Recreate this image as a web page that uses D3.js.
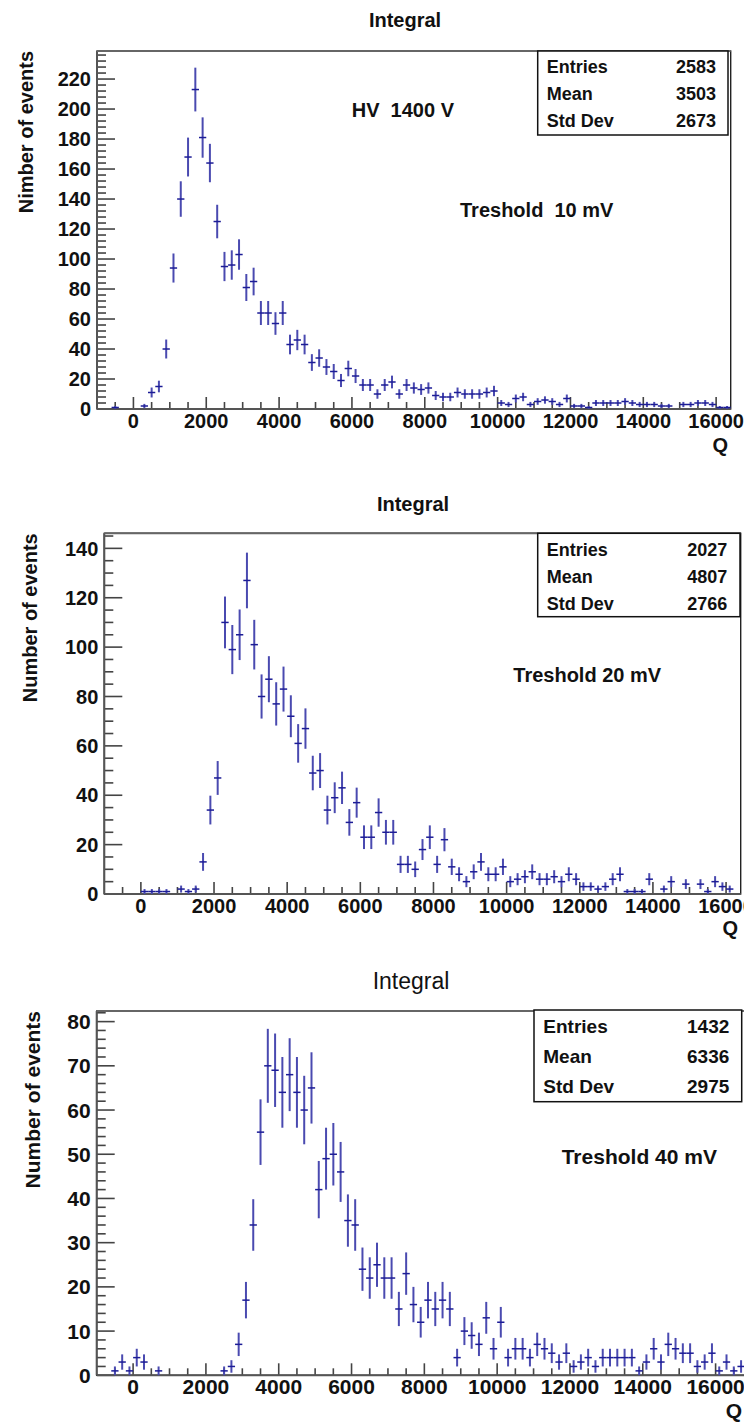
<!DOCTYPE html>
<html><head><meta charset="utf-8">
<script src="https://cdn.jsdelivr.net/npm/d3@7"></script>
<style>body{margin:0;background:#fff}svg{display:block}text{font-family:"Liberation Sans",Arial,sans-serif;white-space:pre}</style>
</head><body>
<script>
// ---------- data ----------
const xTicks = [0,2000,4000,6000,8000,10000,12000,14000,16000];
const binWidth = 200;

const p1Q = [-500,300,500,700,900,1100,1300,1500,1700,1900,2100,2300,2500,2700,2900,3100,3300,3500,3700,3900,4100,4300,4500,4700,4900,5100,5300,5500,5700,5900,6100,6300,6500,6700,6900,7100,7300,7500,7700,7900,8100,8300,8500,8700,8900,9100,9300,9500,9700,9900,10100,10300,10500,10700,10900,11100,11300,11500,11700,11900,12100,12300,12500,12700,12900,13100,13300,13500,13700,13900,14100,14300,14500,14700,15100,15300,15500,15700,15900,16100,16300];
const p1N = [1,2,11,15,40,94,140,168,213,181,164,125,95,96,103,81,85,64,64,57,64,43,46,43,31,34,28,25,19,27,22,16,16,10,16,18,10,16,14,13,14,9,8,8,11,10,10,10,11,12,4,3,7,8,3,5,6,5,3,7,2,2,1,4,4,4,4,5,4,3,3,3,2,2,3,3,4,4,3,1,1];

const p2Q = [100,300,500,700,1100,1300,1500,1700,1900,2100,2300,2500,2700,2900,3100,3300,3500,3700,3900,4100,4300,4500,4700,4900,5100,5300,5500,5700,5900,6100,6300,6500,6700,6900,7100,7300,7500,7700,7900,8100,8300,8500,8700,8900,9100,9300,9500,9700,9900,10100,10300,10500,10700,10900,11100,11300,11500,11700,11900,12100,12300,12500,12700,12900,13100,13300,13500,13700,13900,14300,14500,14900,15300,15500,15700,15900,16100];
const p2N = [1,1,1,1,2,1,2,13,34,47,110,99,105,127,101,80,87,77,83,72,61,67,49,50,34,39,43,29,37,23,23,33,25,25,12,12,10,18,23,12,22,11,8,5,9,13,8,8,11,5,6,7,9,6,6,7,5,8,6,3,3,2,3,6,8,1,1,1,6,2,5,4,4,1,5,3,2];

const p3Q = [-500,-300,-100,100,300,700,2500,2700,2900,3100,3300,3500,3700,3900,4100,4300,4500,4700,4900,5100,5300,5500,5700,5900,6100,6300,6500,6700,6900,7100,7300,7500,7700,7900,8100,8300,8500,8700,8900,9100,9300,9500,9700,9900,10100,10300,10500,10700,10900,11100,11300,11500,11700,11900,12100,12300,12500,12700,12900,13100,13300,13500,13700,13900,14100,14300,14500,14700,14900,15100,15300,15500,15700,15900,16100,16300,16500,16700];
const p3N = [1,3,1,4,3,1,1,2,7,17,34,55,70,69,64,68,64,60,65,42,49,50,46,35,34,24,22,25,22,22,15,23,16,12,17,15,17,15,4,10,9,7,13,6,12,4,6,6,4,7,6,5,3,5,2,3,4,2,4,4,4,4,4,1,3,6,3,7,6,5,5,2,3,5,1,3,1,2];

const statLabels = ["Entries","Mean","Std Dev"];
const p1Stats = ["2583","3503","2673"];
const p2Stats = ["2027","4807","2766"];
const p3Stats = ["1432","6336","2975"];

// ---------- layout ----------
const W = 744, H = 1425;
const svg = d3.select("body").append("svg").attr("width", W).attr("height", H);
const markColor = "#1c1c96";

const panels = [
  {Q:p1Q, N:p1N, stats:p1Stats, title:"Integral", titleBold:true, titleX:405, titleY:27,
   yTitle:"Nimber of events", yTitleX:32.5, fs:20,
   left:97, right:730.7, top:51, bottom:409, xDom:[-1000,16400], yMax:238.7, yStep:20, yMinor:4,
   box:[537.7,51,728,135], rows:[72.7,100,127], boxTL:546.7, boxTR:716,
   notes:[{t:"HV  1400 V", x:351.7, y:117},{t:"Treshold  10 mV", x:460, y:217}],
   qX:728, qY:452},
  {Q:p2Q, N:p2N, stats:p2Stats, title:"Integral", titleBold:true, titleX:413, titleY:511,
   yTitle:"Number of events", yTitleX:37, fs:20,
   left:104.3, right:740.7, top:533.3, bottom:894, xDom:[-1000,16400], yMax:146.1, yStep:20, yMinor:5,
   box:[537.7,533.3,740,616.7], rows:[556,583.3,610], boxTL:546.7, boxTR:727.3,
   notes:[{t:"Treshold 20 mV", x:513.3, y:681.7}],
   qX:738, qY:935},
  {Q:p3Q, N:p3N, stats:p3Stats, title:"Integral", titleBold:false, titleX:411, titleY:989,
   yTitle:"Number of events", yTitleX:40, fs:21,
   left:96.7, right:752, top:1011, bottom:1375.3, xDom:[-1000,17000], yMax:82.4, yStep:10, yMinor:2,
   box:[534,1010,741.7,1101.7], rows:[1032.7,1063.3,1093.3], boxTL:543.3, boxTR:729.3,
   notes:[{t:"Treshold 40 mV", x:561.7, y:1164}],
   qX:742, qY:1418}
];

panels.forEach(p => {
  const g = svg.append("g");
  const x = d3.scaleLinear().domain(p.xDom).range([p.left, p.right]);
  const y = d3.scaleLinear().domain([0, p.yMax]).range([p.bottom, p.top]);

  // title
  g.append("text").attr("x", p.titleX).attr("y", p.titleY).attr("text-anchor","middle")
    .attr("font-size", p.titleBold ? 20 : 23).attr("font-weight", p.titleBold ? "bold" : "normal")
    .attr("fill","#111").text(p.title);

  // frame
  g.append("rect").attr("x", p.left).attr("y", p.top).attr("width", p.right - p.left)
    .attr("height", p.bottom - p.top).attr("fill","none").attr("stroke","#222").attr("stroke-width",1.4);

  // y axis ticks
  const yMinorTicks = d3.range(0, p.yMax + 1e-9, p.yMinor);
  g.selectAll(null).data(yMinorTicks).join("line")
    .attr("x1", p.left).attr("x2", d => p.left + (d % p.yStep === 0 ? 18 : 9))
    .attr("y1", d => y(d)).attr("y2", d => y(d))
    .attr("stroke","#444").attr("stroke-width",1.6);
  const yLab = d3.range(0, p.yMax + 1e-9, p.yStep);
  g.selectAll(null).data(yLab).join("text")
    .attr("x", p.left - 6).attr("y", d => y(d)).attr("dy","0.36em").attr("text-anchor","end")
    .attr("font-size", p.fs).attr("font-weight","bold").attr("fill","#111").text(d => d);

  // x axis ticks
  const xMinorTicks = d3.range(-500, p.xDom[1], 500).filter(d => x(d) < p.right - 1);
  g.selectAll(null).data(xMinorTicks).join("line")
    .attr("x1", d => x(d)).attr("x2", d => x(d))
    .attr("y1", p.bottom).attr("y2", d => p.bottom - (d % 2000 === 0 ? 12 : 7))
    .attr("stroke","#444").attr("stroke-width",1.6);
  g.selectAll(null).data(xTicks.filter(d => x(d) < W)).join("text")
    .attr("x", d => x(d)).attr("y", p.bottom + 19).attr("text-anchor","middle")
    .attr("font-size", p.fs).attr("font-weight","bold").attr("fill","#111").text(d => d);

  // axis lines (darker gray)
  g.append("line").attr("x1",p.left).attr("x2",p.left).attr("y1",p.top).attr("y2",p.bottom)
    .attr("stroke","#555").attr("stroke-width",2);
  g.append("line").attr("x1",p.left).attr("x2",p.right).attr("y1",p.bottom).attr("y2",p.bottom)
    .attr("stroke","#555").attr("stroke-width",2);
  g.append("line").attr("x1",p.left).attr("x2",p.right).attr("y1",p.top).attr("y2",p.top)
    .attr("stroke","#666").attr("stroke-width",2);

  // axis titles
  g.append("text").attr("transform", `translate(${p.yTitleX},${p.top}) rotate(-90)`)
    .attr("text-anchor","end").attr("font-size", p.fs).attr("font-weight","bold").attr("fill","#111")
    .text(p.yTitle);
  g.append("text").attr("x", p.qX).attr("y", p.qY).attr("text-anchor","end")
    .attr("font-size", p.fs).attr("font-weight","bold").attr("fill","#111").text("Q");

  // data: error bars
  const pts = p.Q.map((q,i) => ({q, n:p.N[i]})).filter(d => d.n > 0);
  const dg = g.append("g").attr("stroke", markColor).attr("stroke-width",1.5);
  dg.selectAll(null).data(pts).join("line")
    .attr("x1", d => x(d.q)).attr("x2", d => x(d.q))
    .attr("y1", d => y(Math.min(p.yMax, d.n + Math.sqrt(d.n)))).attr("y2", d => y(Math.max(0, d.n - Math.sqrt(d.n))))
    .attr("stroke-width", 2).attr("stroke","#4a4ab0");
  dg.selectAll(null).data(pts).join("line")
    .attr("x1", d => x(d.q - binWidth/2)).attr("x2", d => x(d.q + binWidth/2))
    .attr("y1", d => y(d.n)).attr("y2", d => y(d.n));

  // stats box
  const [bx1,by1,bx2,by2] = p.box;
  g.append("rect").attr("x",bx1).attr("y",by1).attr("width",bx2-bx1).attr("height",by2-by1)
    .attr("fill","#fff").attr("stroke","#111").attr("stroke-width",1.5);
  g.selectAll(null).data(statLabels).join("text")
    .attr("x", p.boxTL).attr("y", (d,i) => p.rows[i]).attr("font-size", p.fs - 2).attr("font-weight","bold")
    .attr("fill","#111").text(d => d);
  g.selectAll(null).data(p.stats).join("text")
    .attr("x", p.boxTR).attr("y", (d,i) => p.rows[i]).attr("text-anchor","end").attr("font-size", p.fs - 2)
    .attr("font-weight","bold").attr("fill","#111").text(d => d);

  // annotations
  g.selectAll(null).data(p.notes).join("text")
    .attr("x", d => d.x).attr("y", d => d.y).attr("font-size", p.fs).attr("font-weight","bold")
    .attr("fill","#111").text(d => d.t);
});
</script>
</body></html>
